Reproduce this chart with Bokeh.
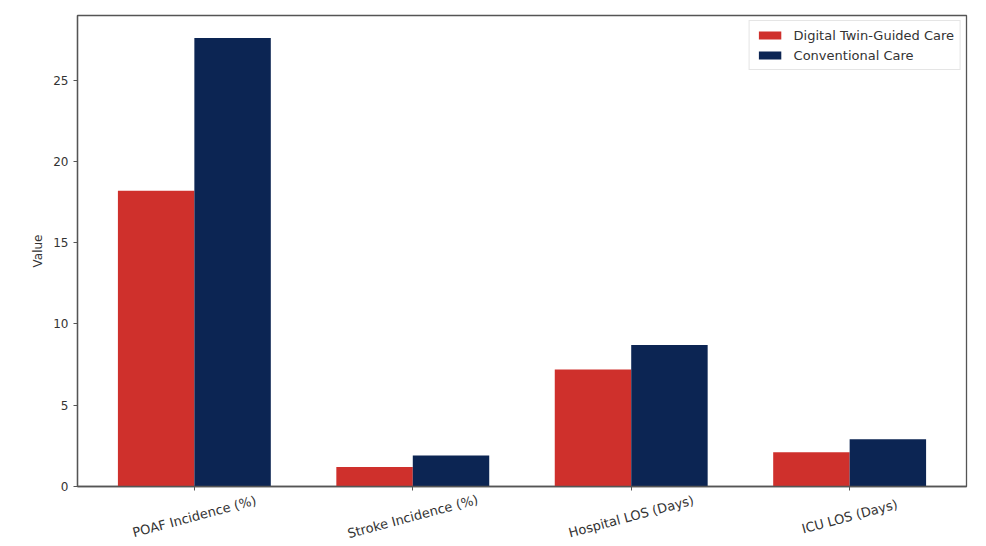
import math
from bokeh.plotting import figure
from bokeh.layouts import column
from bokeh.models import ColumnDataSource, Range1d, FixedTicker, Legend, LegendItem
from bokeh.core.properties import value
from bokeh.embed import file_html
from bokeh.resources import INLINE

categories = ["POAF Incidence (%)", "Stroke Incidence (%)", "Hospital LOS (Days)", "ICU LOS (Days)"]
digital_twin = [18.2, 1.2, 7.2, 2.1]
conventional = [27.6, 1.9, 8.7, 2.9]
series_names = ["Digital Twin-Guided Care", "Conventional Care"]
y_ticks = [0, 5, 10, 15, 20, 25]

RED = "#cf302c"
NAVY = "#0c2553"
FONT = "DejaVu Sans"
bar_w = 0.35
STRIP_H = 53
LABEL_DEPTH = -23  # px below the top of the label strip

idx = list(range(len(categories)))
src_a = ColumnDataSource(dict(x=[i - bar_w / 2 for i in idx], top=digital_twin))
src_b = ColumnDataSource(dict(x=[i + bar_w / 2 for i in idx], top=conventional))
src_lab = ColumnDataSource(dict(x=idx, y=[LABEL_DEPTH] * len(idx), text=categories))

xr = Range1d(-0.535, 3.535)
p = figure(width=986, height=546 - STRIP_H, output_backend="svg", toolbar_location=None,
           x_range=xr, y_range=Range1d(0, 28.98))
p.min_border_left = 77
p.min_border_right = 20
p.min_border_top = 15
p.min_border_bottom = 7
p.background_fill_color = "white"
p.border_fill_color = "white"
p.outline_line_color = "#555555"
p.outline_line_width = 1.3

r1 = p.vbar(x="x", top="top", width=bar_w, bottom=0, source=src_a, fill_color=RED, line_color=None)
r2 = p.vbar(x="x", top="top", width=bar_w, bottom=0, source=src_b, fill_color=NAVY, line_color=None)

p.xgrid.visible = False
p.ygrid.visible = False

p.xaxis.ticker = FixedTicker(ticks=idx)
p.xaxis.major_label_overrides = {i: "" for i in idx}
p.xaxis.major_label_standoff = 0
p.yaxis.ticker = FixedTicker(ticks=y_ticks)
p.yaxis.axis_label = "Value"

for ax in (p.xaxis[0], p.yaxis[0]):
    ax.axis_line_color = "#555555"
    ax.axis_line_width = 1.3
    ax.major_tick_line_color = "#555555"
    ax.major_tick_out = 4
    ax.major_tick_in = 0
    ax.minor_tick_line_color = None
    ax.major_label_text_font = FONT
    ax.major_label_text_color = "#333333"
    ax.major_label_text_font_size = "12px"
    ax.axis_label_text_font = FONT
    ax.axis_label_text_font_size = "12px"
    ax.axis_label_text_font_style = "normal"
    ax.axis_label_text_color = "#333333"

legend = Legend(items=[LegendItem(label=series_names[0], renderers=[r1]),
                       LegendItem(label=series_names[1], renderers=[r2])],
                location="top_right")
legend.label_text_font = FONT
legend.label_text_font_size = "13px"
legend.label_text_color = "#333333"
legend.border_line_color = "#cccccc"
legend.border_line_width = 1
legend.glyph_width = 28
legend.glyph_height = 10
legend.spacing = 4
legend.padding = 6
legend.margin = 5
legend.label_standoff = 10
legend.label_height = 16
p.add_layout(legend)

# strip below the plot holding the category labels, sharing the x range
p2 = figure(width=986, height=STRIP_H, output_backend="svg", toolbar_location=None,
            x_range=xr, y_range=Range1d(-STRIP_H, 0))
p2.min_border_left = 77
p2.min_border_right = 20
p2.min_border_top = 0
p2.min_border_bottom = 0
p2.axis.visible = False
p2.grid.visible = False
p2.outline_line_color = None
p2.background_fill_color = "white"
p2.border_fill_color = "white"
p2.text(x="x", y="y", text="text", source=src_lab, angle=math.radians(15),
        text_align="center", text_baseline="middle",
        text_font=value(FONT), text_font_size="13px", text_color="#333333")

layout = column(p, p2, spacing=0)
open("out.html", "w").write(file_html(layout, INLINE))
